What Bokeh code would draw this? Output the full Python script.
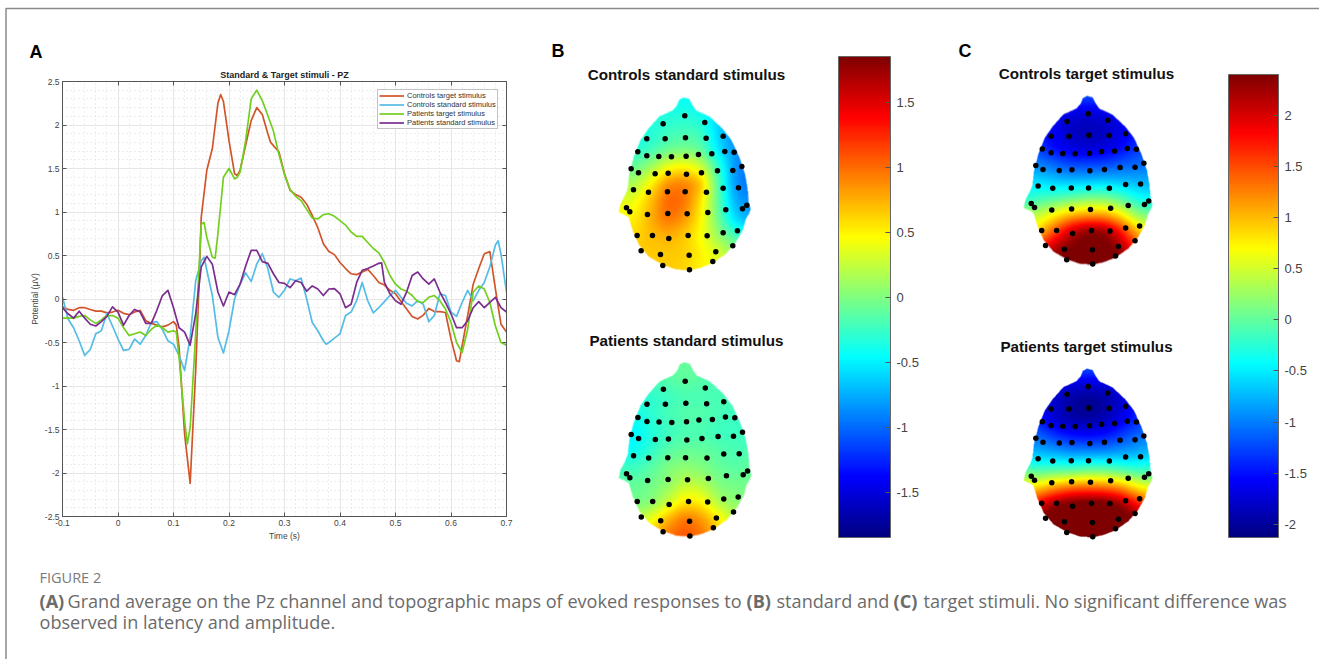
import numpy as np
from bokeh.core.properties import value
from bokeh.embed import file_html
from bokeh.models import ColorBar, FixedTicker, GridBox, Legend, LegendItem, LinearAxis, LinearColorMapper, Range1d
from bokeh.plotting import figure
from bokeh.resources import INLINE

# ---- Panel A: grand average curves (time in s, potential in uV)
t_ct = [-.1,-.09,-.08,-.07,-.06,-.05,-.04,-.03,-.02,-.01,0,.01,.02,.03,.04,.05,.06,.07,.08,.09,.10,.105,.11,.12,.13,.14,.145,.15,.16,.17,.18,.185,.19,.20,.21,.215,.22,.23,.24,.25,.26,.27,.275,.29,.30,.31,.32,.33,.34,.35,.36,.37,.38,.39,.40,.41,.42,.43,.44,.45,.46,.47,.48,.49,.50,.51,.52,.53,.54,.55,.56,.57,.58,.59,.60,.61,.615,.62,.63,.64,.65,.66,.67,.68,.69,.70]
v_ct = [-.09,-.12,-.13,-.10,-.10,-.12,-.14,-.14,-.16,-.15,-.13,-.165,-.18,-.15,-.13,-.25,-.28,-.30,-.32,-.30,-.26,-.30,-.55,-1.55,-2.12,-.82,0,.94,1.48,1.73,2.25,2.35,2.27,1.82,1.44,1.42,1.48,1.77,2.05,2.2,2.12,1.9,1.8,1.69,1.44,1.25,1.2,1.17,1.09,.96,.82,.635,.546,.51,.42,.35,.29,.28,.31,.34,.27,.19,.16,.10,.06,-.03,-.115,-.2,-.23,-.185,-.11,-.145,-.145,-.155,-.46,-.71,-.72,-.54,-.19,.17,.35,.52,.545,.115,-.29,-.38]
t_cs = [-.1,-.09,-.08,-.07,-.06,-.05,-.04,-.03,-.02,-.01,0,.01,.02,.03,.04,.05,.06,.07,.08,.09,.10,.11,.12,.13,.14,.15,.155,.16,.17,.18,.19,.20,.21,.22,.23,.24,.25,.26,.27,.28,.29,.30,.31,.32,.33,.34,.35,.36,.37,.375,.38,.39,.40,.41,.42,.43,.44,.45,.46,.47,.48,.49,.50,.51,.52,.53,.54,.55,.56,.57,.58,.59,.60,.61,.62,.63,.64,.65,.66,.67,.68,.685,.69,.70]
v_cs = [.02,-.23,-.33,-.48,-.65,-.58,-.40,-.365,-.165,-.31,-.46,-.59,-.58,-.46,-.52,-.42,-.27,-.26,-.35,-.48,-.52,-.65,-.82,-.44,.21,.44,.48,.33,.04,-.44,-.62,-.365,0,.17,.30,.2,.40,.52,.35,.08,.02,.10,.23,.21,.24,0,-.27,-.365,-.48,-.52,-.5,-.45,-.40,-.19,-.15,-.02,.19,-.02,-.16,-.1,-.03,.04,.10,.02,-.05,-.08,-.02,-.06,-.26,-.19,.06,.04,-.15,-.2,-.04,.10,-.02,.1,.19,.37,.62,.67,.52,.08]
t_pt = [-.1,-.09,-.08,-.07,-.06,-.05,-.04,-.03,-.02,-.01,0,.01,.02,.03,.04,.05,.06,.07,.08,.09,.10,.105,.11,.12,.125,.13,.14,.15,.155,.16,.17,.175,.18,.19,.20,.21,.215,.22,.23,.24,.25,.26,.27,.28,.29,.30,.31,.32,.33,.34,.35,.36,.37,.38,.39,.40,.41,.42,.43,.44,.45,.46,.47,.48,.49,.50,.51,.52,.53,.54,.55,.56,.57,.58,.59,.60,.61,.62,.63,.64,.65,.66,.67,.68,.69,.70]
v_pt = [-.22,-.22,-.22,-.2,-.19,-.24,-.28,-.24,-.19,-.19,-.22,-.33,-.42,-.4,-.38,-.42,-.35,-.3,-.33,-.38,-.365,-.38,-.67,-1.4,-1.665,-1.48,-.4,.86,.88,.71,.48,.47,.75,1.4,1.5,1.38,1.4,1.46,1.82,2.3,2.4,2.28,2.11,1.93,1.66,1.43,1.26,1.18,1.13,1.03,.93,.92,.97,.98,.95,.90,.85,.77,.72,.72,.65,.58,.53,.42,.27,.17,.115,.09,.04,-.03,-.04,.02,.04,-.02,-.115,-.27,-.5,-.615,-.35,.08,.15,.115,-.04,-.31,-.5,-.53]
t_ps = [-.1,-.09,-.08,-.07,-.06,-.05,-.04,-.03,-.02,-.01,0,.01,.02,.03,.04,.05,.06,.07,.08,.09,.10,.11,.12,.13,.14,.15,.16,.17,.18,.19,.20,.21,.22,.23,.24,.25,.26,.27,.28,.29,.30,.31,.32,.33,.34,.35,.36,.37,.38,.39,.40,.41,.42,.43,.44,.45,.46,.47,.475,.48,.49,.50,.51,.52,.53,.54,.55,.56,.57,.58,.59,.60,.61,.62,.63,.64,.65,.66,.67,.68,.69,.70]
v_ps = [-.10,-.17,-.22,-.14,-.22,-.29,-.31,-.26,-.2,-.09,-.15,-.3,-.19,-.12,-.15,-.28,-.28,-.13,.04,.1,-.1,-.33,-.38,-.53,-.17,.37,.49,.4,.08,-.08,.08,.05,.17,.38,.56,.56,.43,.41,.29,.19,.18,.13,.21,.19,.09,.15,.115,.04,.115,.12,.06,-.1,-.06,.19,.33,.35,.38,.41,.415,.19,.06,-.02,-.06,.08,.27,.31,.23,.17,.23,.08,-.04,-.17,-.33,-.33,-.25,-.1,-.03,-.1,-.04,.02,-.1,-.15]
series_names = ["Controls target stimulus", "Controls standard stimulus", "Patients target stimulus", "Patients standard stimulus"]
x_tick_vals = [-.1, 0, .1, .2, .3, .4, .5, .6, .7]
x_tick_labels = ["-0.1", "0", "0.1", "0.2", "0.3", "0.4", "0.5", "0.6", "0.7"]
y_tick_vals = [-2.5, -2, -1.5, -1, -.5, 0, .5, 1, 1.5, 2, 2.5]
y_tick_labels = ["-2.5", "-2", "-1.5", "-1", "-0.5", "0", "0.5", "1", "1.5", "2", "2.5"]

# ---- Panels B, C: scalp maps. Electrode positions and outline in head units
elec_x = [373,308,433,259,314,375,437,488,232,259,295,333,377,414,454,493,521,212,234,284,323,378,423,471,517,544,219,264,321,374,438,488,534,198,208,261,322,380,442,496,546,559,230,276,325,383,440,488,531,242,300,386,466,517,307,387,457]
elec_y = [166,190,186,235,235,232,233,227,274,286,288,289,287,282,280,273,275,325,337,340,338,341,337,331,330,318,388,395,394,394,395,383,382,442,454,462,459,460,456,448,445,434,525,525,534,525,526,517,511,571,582,584,574,556,615,628,603]
outline_x = [368,385,395,405,445,485,512,535,552,560,563,569,565,555,545,525,495,455,420,385,345,305,265,235,215,203,190,173,178,192,200,205,218,238,262,295,335,348,355]
outline_y = [111,116,135,150,168,205,240,290,340,385,425,445,458,475,510,545,580,608,622,630,627,613,590,555,510,470,463,455,432,405,385,340,290,240,205,168,150,135,118]
grid_cols = [170,220,270,320,370,420,470,520,570]
grid_rows = [110,162,214,266,318,370,422,474,526,578,630]
controls_standard = [
 [-.45,-.45,-.45,-.45,-.45,-.45,-.5,-.7,-.8],
 [-.4,-.4,-.35,-.35,-.35,-.4,-.6,-.8,-.9],
 [-.4,-.4,-.35,-.25,-.2,-.25,-.6,-.9,-1],
 [-.35,-.35,-.25,-.1,-.05,-.1,-.55,-.85,-1],
 [-.1,-.1,.1,.4,.5,.3,-.25,-.85,-1],
 [.15,.15,.5,.9,.95,.75,-.15,-.85,-1],
 [.35,.4,.7,1.05,1.0,.55,-.1,-.75,-.9],
 [.5,.5,.75,1.0,.85,.5,-.05,-.6,-.8],
 [.6,.6,.7,.75,.65,.45,.1,-.2,-.4],
 [.65,.65,.65,.65,.65,.5,.35,.1,0],
 [.65,.65,.65,.65,.6,.5,.4,.2,.1]]
patients_standard = [
 [-.1,-.1,-.1,-.1,-.1,-.1,-.15,-.2,-.2],
 [-.2,-.2,-.2,-.15,-.1,-.15,-.2,-.2,-.2],
 [-.35,-.35,-.3,-.25,-.2,-.2,-.2,-.2,-.2],
 [-.45,-.4,-.3,-.2,-.15,-.15,-.2,-.25,-.25],
 [-.5,-.5,-.35,-.25,-.2,-.2,-.25,-.25,-.25],
 [-.45,-.45,-.3,-.15,-.1,-.1,-.15,-.2,-.2],
 [-.25,-.25,-.15,0,.05,0,-.1,-.15,-.1],
 [-.1,-.1,-.05,.05,.25,.2,0,-.05,-.05],
 [-.05,-.05,0,.25,.55,.5,.15,.05,0],
 [.2,.2,.4,.75,1.0,.85,.55,.2,.1],
 [.4,.5,.7,1.0,1.1,1.0,.7,.3,.2]]
controls_target = [
 [-1.2,-1.2,-1.2,-1.2,-1.2,-1.2,-1.2,-1.2,-1.2],
 [-1.6,-1.6,-1.65,-1.7,-1.75,-1.7,-1.6,-1.5,-1.5],
 [-1.5,-1.5,-1.6,-1.85,-1.9,-1.85,-1.7,-1.5,-1.4],
 [-1.3,-1.35,-1.6,-1.75,-1.8,-1.75,-1.6,-1.35,-1.3],
 [-1.0,-1.0,-1.15,-1.3,-1.3,-1.3,-1.2,-1.1,-1.1],
 [-.6,-.6,-.7,-.75,-.75,-.7,-.75,-.8,-.8],
 [-.3,-.2,-.15,-.05,.05,.05,-.1,-.4,-.5],
 [.3,.4,.7,.95,1.05,1.05,.75,.2,0],
 [.6,.9,1.5,2.1,2.4,2.35,1.8,1.0,.6],
 [1.5,1.7,2.2,2.45,2.5,2.5,2.3,1.6,1.2],
 [2.2,2.3,2.5,2.5,2.5,2.5,2.5,2.2,2.0]]
patients_target = [
 [-1.2,-1.2,-1.2,-1.2,-1.2,-1.2,-1.2,-1.2,-1.2],
 [-1.6,-1.6,-1.7,-1.75,-1.8,-1.75,-1.7,-1.6,-1.5],
 [-1.6,-1.6,-1.8,-2.0,-2.1,-2.0,-1.8,-1.5,-1.4],
 [-1.4,-1.5,-1.8,-1.95,-2.0,-1.9,-1.7,-1.4,-1.3],
 [-1.1,-1.1,-1.35,-1.5,-1.55,-1.5,-1.3,-1.1,-1.0],
 [-.75,-.75,-.8,-.9,-.9,-.9,-.85,-.8,-.7],
 [0,-.15,-.1,-.1,0,0,-.1,-.2,-.2],
 [.7,.85,1.1,1.3,1.35,1.3,1.15,.75,.5],
 [1.5,1.9,2.35,2.55,2.6,2.6,2.35,1.8,1.4],
 [2.4,2.5,2.6,2.6,2.6,2.6,2.6,2.5,2.4],
 [2.6,2.6,2.6,2.6,2.6,2.6,2.6,2.6,2.6]]
cbar_b_ticks = [-1.5,-1,-.5,0,.5,1,1.5]
cbar_b_labels = ["-1.5","-1","-0.5","0","0.5","1","1.5"]
cbar_c_ticks = [-2,-1.5,-1,-.5,0,.5,1,1.5,2]
cbar_c_labels = ["-2","-1.5","-1","-0.5","0","0.5","1","1.5","2"]
cbar_b_range = (-1.85, 1.85)
cbar_c_range = (-2.13, 2.40)

SANS = value("Liberation Sans")
CAP = "Open Sans"


def jet_rgb(f):
    f = np.clip(f, 0, 1)
    r = np.clip(1.5 - np.abs(4 * f - 3), 0, 1)
    g = np.clip(1.5 - np.abs(4 * f - 2), 0, 1)
    b = np.clip(1.5 - np.abs(4 * f - 1), 0, 1)
    return r, g, b


JET = ["#%02x%02x%02x" % tuple(int(round(c * 255)) for c in jet_rgb(i / 255)) for i in range(256)]


def box(a, k):
    pad = np.pad(a, k, mode="edge")
    c = np.ones(2 * k + 1) / (2 * k + 1)
    pad = np.apply_along_axis(lambda m: np.convolve(m, c, "valid"), 0, pad)
    pad = np.apply_along_axis(lambda m: np.convolve(m, c, "valid"), 1, pad)
    return pad


def inside(hx, hy):
    px, py = np.array(outline_x, float), np.array(outline_y, float)
    out = np.zeros(hx.shape, bool)
    for i in range(len(px)):
        j = i - 1
        cross = (py[i] > hy) != (py[j] > hy)
        with np.errstate(divide="ignore", invalid="ignore"):
            xc = (px[j] - px[i]) * (hy - py[i]) / (py[j] - py[i]) + px[i]
        out ^= cross & (hx < xc)
    return out


def draw_head(p, grid, rng, ex, ey, s):
    scale = s / 3.0
    step = 0.5 / scale
    hxs = np.arange(160, 580, step)
    hys = np.arange(100, 640, step)
    g = np.array(grid, float)
    a = np.array([np.interp(hxs, grid_cols, row) for row in g])
    f = np.array([np.interp(hys, grid_rows, col) for col in a.T]).T
    f = box(box(f, 10), 10)
    hx, hy = np.meshgrid(hxs, hys)
    alpha = box(inside(hx, hy).astype(float), 1)
    r, gg, b = jet_rgb((f - rng[0]) / (rng[1] - rng[0]))
    img = np.zeros(f.shape, dtype=np.uint32)
    view = img.view(dtype=np.uint8).reshape(f.shape + (4,))
    view[..., 0] = (r * 255).astype(np.uint8)
    view[..., 1] = (gg * 255).astype(np.uint8)
    view[..., 2] = (b * 255).astype(np.uint8)
    view[..., 3] = (alpha * 255).astype(np.uint8)
    x0 = ex + (160 - 373) * scale
    w = (hxs[-1] + step - 160) * scale
    top = ey + (100 - 166) * scale
    h = (hys[-1] + step - 100) * scale
    p.image_rgba(image=[img[::-1]], x=[x0], y=[659 - top - h], dw=[w], dh=[h])
    p.scatter(x=[ex + (e - 373) * scale for e in elec_x], y=[659 - (ey + (e - 166) * scale) for e in elec_y],
              size=5.5, color="#000000", line_color=None)


# ---- background canvas in page pixels
bg = figure(width=1319, height=659, x_range=Range1d(0, 1319), y_range=Range1d(0, 659), output_backend="svg",
            toolbar_location=None, min_border=0, outline_line_color=None, margin=0,
            x_axis_location=None, y_axis_location=None, border_fill_color=None, background_fill_color=None)
bg.grid.visible = False
bg.line(x=[5.5, 5.5, 1319], y=[0, 651, 651], line_color="#8a8a8a", line_width=1.5)


def label(x, y, text, size, bold=False, align="left", color="#000000", font=SANS):
    bg.text(x=[x], y=[659 - y], text=[text], text_font=font, text_font_size=size, text_color=color,
            text_align=align, text_baseline="middle", text_font_style="bold" if bold else "normal")


label(29, 51, "A", "18px", True)
label(551, 50, "B", "18px", True)
label(958, 50, "C", "18px", True)
label(686, 73.5, "Controls standard stimulus", "15.2px", True, "center", "#111111")
label(686, 339.5, "Patients standard stimulus", "15.2px", True, "center", "#111111")
label(1086, 72.5, "Controls target stimulus", "15.2px", True, "center", "#111111")
label(1086, 345.5, "Patients target stimulus", "15.2px", True, "center", "#111111")

draw_head(bg, controls_standard, cbar_b_range, 684.3, 115.3, 1.0)
draw_head(bg, patients_standard, cbar_b_range, 684.7, 380.7, 1.006)
draw_head(bg, controls_target, cbar_c_range, 1087.7, 113.3, .976)
draw_head(bg, patients_target, cbar_c_range, 1087.7, 386, .976)


def cbar(rng, ticks, labels, x, top, bottom, w):
    cm = LinearColorMapper(palette=JET, low=rng[0], high=rng[1])
    cb = ColorBar(color_mapper=cm, ticker=FixedTicker(ticks=ticks),
                  major_label_overrides={t: l for t, l in zip(ticks, labels)},
                  location=(x, 659 - bottom), width=w, height=bottom - top, padding=0, margin=0,
                  bar_line_color="#666666", major_tick_line_color="#555555", major_tick_in=5, major_tick_out=0,
                  minor_tick_line_color=None, label_standoff=6, major_label_text_font=SANS.value,
                  major_label_text_font_size="13px", major_label_text_color="#444444",
                  background_fill_color=None, border_line_color=None)
    bg.add_layout(cb, "center")


cbar(cbar_b_range, cbar_b_ticks, cbar_b_labels, 838, 56, 537, 52)
cbar(cbar_c_range, cbar_c_ticks, cbar_c_labels, 1228, 74, 537, 50)

CAPC = "#6b6b6b"
CS = "18.1px"
label(39, 577, "FIGURE 2", "14.5px", False, "left", "#7a7a7a", value(CAP))
label(39, 600, "(A)", CS, True, "left", CAPC, value(CAP))
label(67, 600, "Grand average on the Pz channel and topographic maps of evoked responses to", CS, False, "left", CAPC, value(CAP))
label(746, 600, "(B)", CS, True, "left", CAPC, value(CAP))
label(776, 600, "standard and", CS, False, "left", CAPC, value(CAP))
label(893, 600, "(C)", CS, True, "left", CAPC, value(CAP))
label(923, 600, "target stimuli. No significant difference was", CS, False, "left", CAPC, value(CAP))
label(39, 621, "observed in latency and amplitude.", CS, False, "left", CAPC, value(CAP))

# ---- Panel A
minor_x = [round(v, 3) for v in np.arange(-.1, .7001, .02)]
minor_y = [round(v, 3) for v in np.arange(-2.5, 2.5001, .1)]
A = figure(width=508, height=486, x_range=Range1d(-.1, .7), y_range=Range1d(-2.5, 2.5),
           output_backend="svg", toolbar_location=None, min_border_left=54, min_border_top=21,
           min_border_bottom=30, min_border_right=10, border_fill_color=None, outline_line_color="#555555",
           margin=(60 - 659, 0, 0, 8 - 1319), x_axis_location="below", y_axis_location="left",
           sizing_mode="fixed")
A.title.text = "Standard & Target stimuli - PZ"
A.title.text_font = "Liberation Sans"
A.title.text_font_size = "9px"
A.title.text_color = "#222222"
A.title.align = "center"
A.title.standoff = 4
A.title.offset = -1


def style_axis(ax, ticks, labels, show=True):
    ax.ticker = FixedTicker(ticks=ticks)
    ax.major_label_overrides = {t: (l if show else "") for t, l in zip(ticks, labels)}
    ax.major_tick_in = 4
    ax.major_tick_out = 0
    ax.minor_tick_line_color = None
    ax.axis_line_color = "#555555"
    ax.major_tick_line_color = "#555555"
    ax.major_label_text_font = "Liberation Sans"
    ax.major_label_text_font_size = "8.5px"
    ax.major_label_text_color = "#444444"
    ax.major_label_standoff = 3


bottom_axis = A.xaxis[0]
left_axis = A.yaxis[0]
style_axis(bottom_axis, x_tick_vals, x_tick_labels)
style_axis(left_axis, y_tick_vals, y_tick_labels)
top = LinearAxis()
right = LinearAxis()
A.add_layout(top, "above")
A.add_layout(right, "right")
style_axis(top, x_tick_vals, x_tick_labels, False)
style_axis(right, y_tick_vals, y_tick_labels, False)
top.major_label_text_font_size = "0px"
right.major_label_text_font_size = "0px"
top.major_label_standoff = 0
right.major_label_standoff = 0
bottom_axis.axis_label = "Time (s)"
left_axis.axis_label = "Potential (µV)"
for ax in (bottom_axis, left_axis):
    ax.axis_label_text_font = "Liberation Sans"
    ax.axis_label_text_font_style = "normal"
    ax.axis_label_text_font_size = "8.5px"
    ax.axis_label_text_color = "#444444"
    ax.axis_label_standoff = 2
A.xgrid.ticker = FixedTicker(ticks=x_tick_vals, minor_ticks=minor_x)
A.ygrid.ticker = FixedTicker(ticks=y_tick_vals, minor_ticks=minor_y)
for g in (A.xgrid[0], A.ygrid[0]):
    g.grid_line_color = "#e6e6e6"
    g.minor_grid_line_color = "#dedede"
    g.minor_grid_line_dash = "1 3"

colors = ["#d2552a", "#55bce6", "#72cf1f", "#7b2d8e"]
rs = []
for xs, ys, c in zip([t_ct, t_cs, t_pt, t_ps], [v_ct, v_cs, v_pt, v_ps], colors):
    rs.append(A.line(x=xs, y=ys, line_color=c, line_width=1.7, line_join="round"))
leg = Legend(items=[LegendItem(label=n, renderers=[r]) for n, r in zip(series_names, rs)],
             location=(315, 387), orientation="vertical", padding=1, margin=0, spacing=0,
             glyph_width=25, glyph_height=9, label_standoff=3, label_height=9,
             label_text_font="Liberation Sans", label_text_font_size="7.5px", label_text_color="#333333",
             border_line_color="#888888", background_fill_color="#ffffff", background_fill_alpha=1)
A.add_layout(leg, "center")

root = GridBox(children=[(bg, 0, 0), (A, 1, 1)], spacing=0)
open("out.html", "w").write(file_html(root, INLINE))
